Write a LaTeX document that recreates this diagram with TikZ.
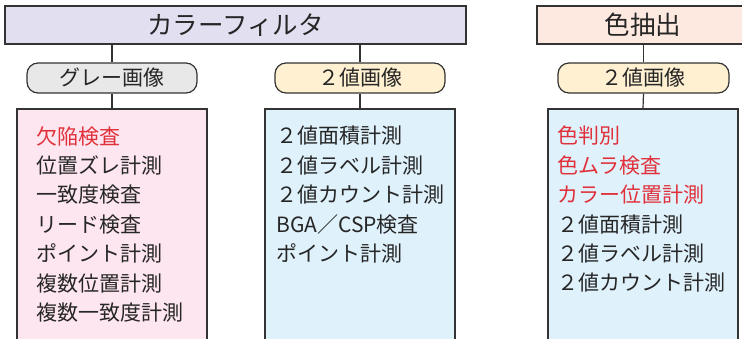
\documentclass[tikz,border=0pt]{standalone}
\usepackage{fontspec}
\setmainfont{Noto Sans CJK JP}
\definecolor{lav}{HTML}{E2DFF1}
\definecolor{peach}{HTML}{FDE9DF}
\definecolor{pink}{HTML}{FDE6EF}
\definecolor{skyb}{HTML}{DFF1FB}
\definecolor{pgray}{HTML}{E8E8E8}
\definecolor{pyel}{HTML}{FFF0D2}
\definecolor{ink}{HTML}{262626}
\definecolor{redt}{HTML}{E0303A}
\definecolor{edge}{HTML}{333333}
\begin{document}
\begin{tikzpicture}[x=1pt,y=-1pt,
  topbox/.style={draw=edge,line width=1.2pt,minimum height=38,inner sep=0pt,text=ink,font=\fontsize{25.5}{30}\selectfont},
  pill/.style={draw=edge,line width=1.2pt,rounded corners=11pt,minimum width=170,minimum height=30,inner sep=0pt,text=ink,font=\fontsize{21}{24}\selectfont},
  listbox/.style={draw=edge,line width=1.2pt,minimum width=190,minimum height=251,inner sep=0pt},
  listtext/.style={anchor=north west,align=left,inner sep=0pt,text=ink,font=\fontsize{21}{29.4}\selectfont},
  link/.style={draw=edge,line width=1.2pt}]
\useasboundingbox (0,0) rectangle (742,338);
\node[topbox,fill=lav,minimum width=461] (cf) at (235.5,25) {カラーフィルタ};
\node[topbox,fill=peach,minimum width=212] (ce) at (643,25) {色抽出};
\node[pill,fill=pgray] (pg) at (112,78) {グレー画像};
\node[pill,fill=pyel] (pb) at (360,78) {２値画像};
\node[pill,fill=pyel,minimum width=171] (pc) at (643.5,78) {２値画像};
\node[listbox,fill=pink] (bl) at (112,234.5) {};
\node[listbox,fill=skyb] (bm) at (360,234.5) {};
\node[listbox,fill=skyb] (br) at (643,234.5) {};
\draw[link] (pg.north) -- (pg.north |- cf.south);
\draw[link] (pb.north) -- (pb.north |- cf.south);
\draw[link] (pc.north) -- (pc.north |- ce.south);
\draw[link] (pg.south) -- (bl.north);
\draw[link] (pb.south) -- (bm.north);
\draw[link] (pc.south) -- (br.north);
\node[listtext] (tl) at (36,126) {\textcolor{redt}{欠陥検査}\\位置ズレ計測\\一致度検査\\リード検査\\ポイント計測\\複数位置計測\\複数一致度計測};
\node[listtext] (tm) at (276,126) {２値面積計測\\２値ラベル計測\\２値カウント計測\\BGA／CSP検査\\ポイント計測};
\node[listtext] (tr) at (557,126) {\textcolor{redt}{色判別}\\\textcolor{redt}{色ムラ検査}\\\textcolor{redt}{カラー位置計測}\\２値面積計測\\２値ラベル計測\\２値カウント計測};
\end{tikzpicture}
\end{document}
